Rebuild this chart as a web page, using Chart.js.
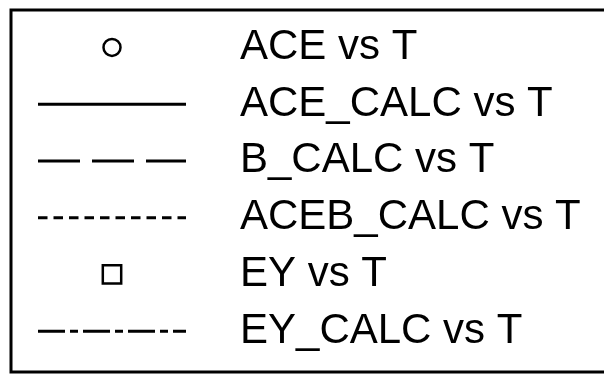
<!DOCTYPE html>
<html>
<head>
<meta charset="utf-8">
<script src="https://cdn.jsdelivr.net/npm/chart.js@4/dist/chart.umd.min.js"></script>
<style>
  html, body { margin: 0; padding: 0; background: #fff; }
  canvas { display: block; }
</style>
</head>
<body>
<canvas id="legendChart" width="604" height="375"></canvas>
<script>
// legend rows, top to bottom
const rowLabels = ['ACE vs T', 'ACE_CALC vs T', 'B_CALC vs T', 'ACEB_CALC vs T', 'EY vs T', 'EY_CALC vs T'];
// x extent of a line sample, and where a marker sits
const sampleX = [0, 1];
const markerX = [0.5];

// frame round the legend (right side is cut off in the original)
const framePlugin = {
  id: 'frame',
  beforeDraw(chart) {
    const c = chart.ctx;
    c.save();
    c.strokeStyle = '#000';
    c.lineWidth = 3;
    c.beginPath();
    c.moveTo(chart.width + 5, 10);
    c.lineTo(11, 10);
    c.lineTo(11, 372);
    c.lineTo(chart.width + 5, 372);
    c.stroke();
    c.restore();
  }
};

function lineSet(label, dash) {
  return {
    label: label,
    data: sampleX.map(x => ({ x: x, y: label })),
    borderColor: '#000',
    borderWidth: 3,
    borderDash: dash,
    borderCapStyle: 'butt',
    pointRadius: 0,
    showLine: true,
    clip: false
  };
}

function markerSet(label, style, radius) {
  return {
    label: label,
    data: markerX.map(x => ({ x: x, y: label })),
    pointStyle: style,
    pointRadius: radius,
    pointBorderWidth: 2.5,
    pointBorderColor: '#000',
    pointBackgroundColor: 'rgba(0,0,0,0)',
    showLine: false,
    clip: false
  };
}

const ctx = document.getElementById('legendChart').getContext('2d');
new Chart(ctx, {
  type: 'line',
  data: {
    datasets: [
      markerSet(rowLabels[0], 'circle', 8.5),
      lineSet(rowLabels[1], []),
      lineSet(rowLabels[2], [42, 12]),
      lineSet(rowLabels[3], [9.5, 6]),
      markerSet(rowLabels[4], 'rect', 13),
      lineSet(rowLabels[5], [27, 5, 8, 5])
    ]
  },
  options: {
    responsive: false,
    animation: false,
    events: [],
    layout: { padding: { left: 38, right: 0, top: 19, bottom: 12 } },
    plugins: {
      legend: { display: false },
      tooltip: { enabled: false }
    },
    scales: {
      x: { type: 'linear', min: sampleX[0], max: sampleX[1], display: false },
      y: {
        type: 'category',
        labels: rowLabels,
        position: 'right',
        offset: true,
        grid: { display: false, drawTicks: false },
        border: { display: false },
        afterFit(scale) {
          scale.width = 418;
          scale.paddingTop = 0;
          scale.paddingBottom = 0;
        },
        ticks: {
          autoSkip: false,
          padding: 54,
          crossAlign: 'near',
          color: '#000',
          font: { family: '"Liberation Sans", Arial, sans-serif', size: 42 }
        }
      }
    }
  },
  plugins: [framePlugin]
});
</script>
</body>
</html>
